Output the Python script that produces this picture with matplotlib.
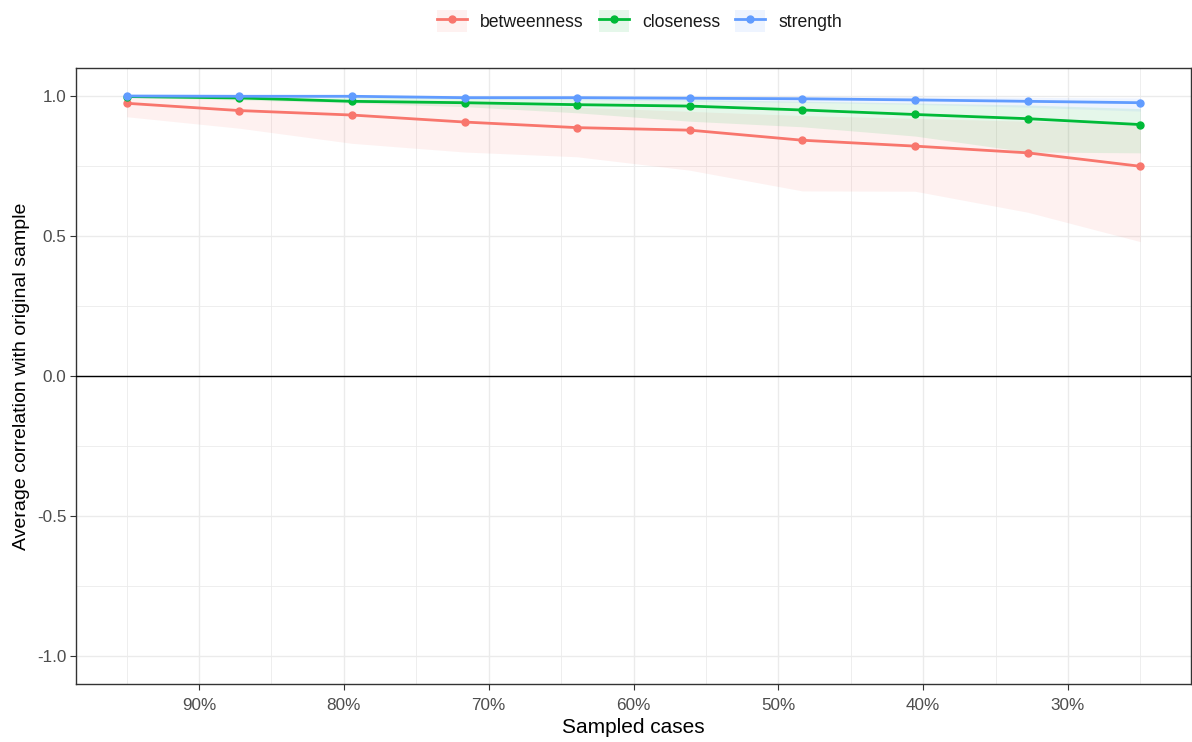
import matplotlib
matplotlib.use("Agg")
import matplotlib.pyplot as plt
from matplotlib.patches import Patch
from matplotlib.lines import Line2D
from matplotlib.ticker import FixedLocator, FuncFormatter

plt.rcParams['font.family'] = ['Liberation Sans', 'DejaVu Sans']

# Data
sampled = [95.0, 87.22, 79.44, 71.67, 63.89, 56.11, 48.33, 40.56, 32.78, 25.0]
series = ["betweenness", "closeness", "strength"]
betweenness = [0.974, 0.948, 0.932, 0.907, 0.887, 0.878, 0.842, 0.821, 0.797, 0.749]
betweenness_lo = [0.926, 0.885, 0.831, 0.800, 0.783, 0.735, 0.661, 0.660, 0.585, 0.480]
betweenness_hi = [0.995, 0.990, 0.985, 0.975, 0.960, 0.945, 0.930, 0.920, 0.910, 0.900]
closeness = [0.998, 0.993, 0.981, 0.976, 0.969, 0.964, 0.950, 0.934, 0.919, 0.898]
closeness_lo = [0.995, 0.986, 0.975, 0.962, 0.940, 0.910, 0.890, 0.857, 0.800, 0.797]
closeness_hi = [1.000, 0.999, 0.996, 0.993, 0.990, 0.987, 0.982, 0.975, 0.968, 0.955]
strength = [1.000, 0.999, 0.999, 0.994, 0.994, 0.992, 0.990, 0.986, 0.981, 0.976]
strength_lo = [0.998, 0.996, 0.994, 0.990, 0.987, 0.982, 0.977, 0.970, 0.960, 0.946]
strength_hi = [1.000, 1.000, 1.000, 1.000, 0.999, 0.999, 0.998, 0.997, 0.995, 0.993]
colors = ["#F8766D", "#00BA38", "#619CFF"]
x_ticks = [90, 80, 70, 60, 50, 40, 30]
y_ticks = [-1.0, -0.5, 0.0, 0.5, 1.0]

means = [betweenness, closeness, strength]
los = [betweenness_lo, closeness_lo, strength_lo]
his = [betweenness_hi, closeness_hi, strength_hi]

fig = plt.figure(figsize=(11.92, 7.42), dpi=100)
ax = fig.add_axes([76/1192, 1-684/742, (1191-76)/1192, (684-68)/742])

for m, lo, hi, c in zip(means, los, his, colors):
    ax.fill_between(sampled, lo, hi, color=c, alpha=0.1, linewidth=0, zorder=2)
for m, c in zip(means, colors):
    ax.plot(sampled, m, color=c, lw=2.0, marker='o', ms=5, zorder=4, solid_capstyle='butt')

ax.axhline(0, color='black', lw=1.0, zorder=3)

ax.set_xlim(98.5, 21.5)
ax.set_ylim(-1.1, 1.1)
ax.xaxis.set_major_locator(FixedLocator(x_ticks))
ax.xaxis.set_minor_locator(FixedLocator([95, 85, 75, 65, 55, 45, 35, 25]))
ax.xaxis.set_major_formatter(FuncFormatter(lambda v, p: f"{int(round(v))}%"))
ax.yaxis.set_major_locator(FixedLocator(y_ticks))
ax.yaxis.set_minor_locator(FixedLocator([-0.75, -0.25, 0.25, 0.75]))
ax.yaxis.set_major_formatter(FuncFormatter(lambda v, p: f"{v:.1f}"))

ax.grid(which='major', color='#EBEBEB', lw=1.0, zorder=0)
ax.grid(which='minor', color='#EBEBEB', lw=0.6, zorder=0)
ax.set_axisbelow(True)
for s in ax.spines.values():
    s.set_color('#333333')
    s.set_linewidth(1.0)
ax.tick_params(which='major', length=4, width=0.8, color='#333333', labelcolor='#4D4D4D', labelsize=12.3, pad=3)
ax.tick_params(axis='x', which='major', pad=6)
ax.tick_params(which='minor', length=0)

ax.set_xlabel("Sampled cases", fontsize=15, color='black', labelpad=4)
ax.set_ylabel("Average correlation with original sample", fontsize=14, color='black', labelpad=5)

handles = []
for c in colors:
    handles.append((Patch(facecolor=c, alpha=0.1, edgecolor='none'),
                    Line2D([], [], color=c, lw=2.0, marker='o', ms=5)))
leg = fig.legend(handles, series, loc='center', bbox_to_anchor=(639.5/1192, 1-21/742), ncol=3,
                 frameon=False, fontsize=12.7, handlelength=1.7, handleheight=1.48,
                 handletextpad=0.74, columnspacing=0.85, borderaxespad=0.0, borderpad=0.0)
for t in leg.get_texts():
    t.set_color('#1A1A1A')

fig.savefig("out.png", dpi=100)
